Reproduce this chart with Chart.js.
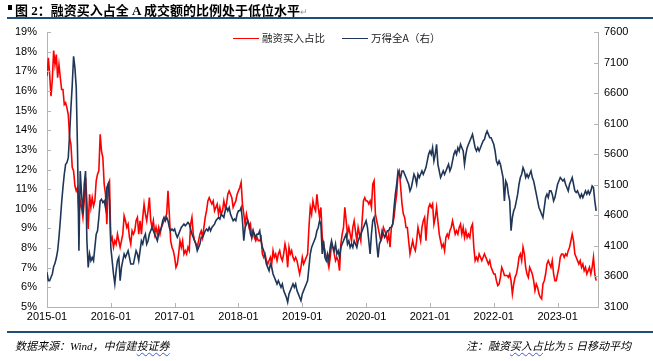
<!DOCTYPE html>
<html>
<head>
<meta charset="utf-8">
<script src="https://cdn.jsdelivr.net/npm/chart.js@4.4.0/dist/chart.umd.min.js"></script>
<style>
body{margin:0;background:#fff;}
#page{position:relative;width:653px;height:361px;overflow:hidden;background:#fff;}
#chart{position:absolute;left:0;top:0;}
.sq{position:absolute;left:8px;top:5px;width:4px;height:5px;background:#000;}
.title{position:absolute;left:15px;top:0px;line-height:17px;font:bold 13px "Liberation Serif","Noto Sans CJK SC",serif;color:#000;white-space:nowrap;}
.mark{color:#999;font-weight:normal;font-size:9px;}
.rule1{position:absolute;left:7px;right:0;top:17px;height:2px;background:#1f4e79;}
.rule2{position:absolute;left:7px;right:0;top:331px;height:1.5px;background:#1f4e79;}
.foot{position:absolute;top:337px;line-height:14px;font:italic 11px "Liberation Serif","Noto Sans CJK SC",serif;color:#000;white-space:nowrap;}
.wavy{text-decoration:underline wavy #3b5bdb;text-underline-offset:2px;text-decoration-thickness:1px;}
</style>
</head>
<body>
<div id="page">
  <canvas id="chart" width="653" height="361"></canvas>
  <div class="sq"></div>
  <div class="title">图 2：融资买入占全 A 成交额的比例处于低位水平<span class="mark">↵</span></div>
  <div class="rule1"></div>
  <div class="rule2"></div>
  <div class="foot" style="left:15px;">数据来源：Wind，中信建<span class="wavy">投证券</span></div>
  <div class="foot" style="right:22px;">注：融资<span class="wavy">买入占</span>比为 5 日移动平均</div>
</div>
<script>
// 每 1/4 个月一个点，从 2015-01 开始
const stepMonths = 0.25;
const tickMonths = [0, 12, 24, 36, 48, 60, 72, 84, 96];
const tickLabels = ['2015-01','2016-01','2017-01','2018-01','2019-01','2020-01','2021-01','2022-01','2023-01'];

// 融资买入占比（%，左轴）
const ratioPct = [
  16.75,17.68,16.83,15.73,16.58,18.05,17.34,17.85,16.67,17.34,16.67,16.07,16.07,15.31,15.40,15.14,14.80,13.62,13.28,12.10,
  11.93,11.17,10.91,11.08,9.73,10.40,10.07,9.56,10.40,11.59,10.40,8.97,10.74,10.07,10.57,10.15,10.40,11.42,11.76,11.93,
  13.79,12.94,12.60,11.25,10.74,9.22,11.25,11.42,8.37,8.54,8.04,8.37,8.20,8.71,8.37,8.04,8.37,8.71,9.64,9.39,
  9.05,9.22,8.54,8.20,8.88,8.71,8.88,9.39,9.56,8.71,
  9.39,8.71,9.56,10.24,9.73,9.39,9.90,10.57,9.39,9.05,9.39,8.71,9.05,8.71,9.05,8.71,9.05,9.22,9.39,9.56,
  9.73,10.91,9.73,8.37,8.04,7.87,7.53,7.02,7.19,7.70,8.37,8.04,8.37,7.70,7.87,7.70,8.04,7.87,9.22,9.56,
  8.71,8.37,8.20,8.04,8.37,8.71,8.88,8.54,9.05,9.56,9.90,10.40,10.57,10.40,10.24,10.40,9.90,10.07,10.24,9.73,
  10.07,9.73,9.90,10.40,10.07,10.24,10.74,10.91,10.74,
  10.57,10.07,10.24,10.40,10.74,10.91,11.08,11.34,10.24,9.73,9.22,9.73,9.39,9.05,9.22,8.54,8.88,8.54,8.37,8.54,
  8.37,8.37,8.54,7.70,7.53,7.70,7.36,7.19,7.36,7.53,7.19,7.87,7.53,7.70,7.36,7.70,7.87,7.53,7.36,7.70,
  8.20,7.87,7.02,8.04,7.70,7.87,7.53,7.36,7.53,7.36,7.02,6.68,7.02,7.53,7.19,7.36,7.53,7.70,9.05,10.07,
  9.73,10.40,10.07,9.90,10.74,10.07,9.56,10.07,8.54,
  8.20,7.87,7.53,7.36,7.02,7.53,8.20,8.04,7.70,7.36,7.53,7.36,6.85,8.20,8.71,9.05,10.07,9.39,8.71,9.05,
  8.71,8.37,9.05,9.39,8.88,8.37,9.05,8.71,8.37,9.39,10.40,10.57,10.40,10.40,10.24,10.40,10.07,11.25,11.42,9.73,
  9.39,9.05,8.71,8.37,8.54,9.05,8.88,8.71,8.37,8.71,8.04,9.05,9.22,9.56,10.24,10.74,11.76,11.93,11.08,10.24,
  9.73,9.56,9.05,9.05,8.37,7.70,8.04,8.37,8.04,
  7.87,8.37,9.05,8.71,8.37,9.05,9.39,9.56,8.37,9.39,10.07,10.24,10.07,10.24,9.22,9.56,10.07,9.39,8.71,8.37,
  8.04,8.20,7.87,8.54,8.71,8.54,8.88,9.05,9.39,9.05,8.71,8.88,8.71,9.05,9.22,8.71,9.05,8.54,8.88,8.54,
  8.71,8.54,9.05,9.22,8.04,7.36,7.53,7.36,7.70,7.53,7.36,7.53,7.70,7.53,7.36,7.19,7.36,7.02,6.85,6.68,
  6.68,6.34,6.09,6.17,6.51,7.02,6.85,6.60,6.60,
  6.60,6.51,6.68,6.34,5.67,6.17,6.51,6.68,7.02,7.53,7.70,7.36,8.04,7.70,7.02,6.68,6.51,7.02,6.85,6.68,
  6.34,5.84,6.17,6.00,5.67,5.50,5.41,6.17,6.34,6.68,7.19,7.36,7.19,7.02,7.36,6.68,6.34,6.34,6.68,7.02,
  7.53,7.70,7.70,7.53,7.70,7.61,7.87,8.04,8.37,8.71,8.37,7.70,7.53,7.36,7.19,7.36,7.02,7.19,6.85,7.02,
  6.68,6.85,7.02,6.68,7.02,7.53,6.68,6.34
];

// 万得全A 指数（右轴）
const windA = [
  3668,3532,3532,3586,3640,3760,3814,3901,4021,4239,4511,4810,5055,5272,5435,5462,5544,5925,6360,6741,
  7203,7013,6686,5598,4021,5326,4946,4619,5109,5326,4184,3749,3967,3858,3912,3858,4076,4293,4347,4565,
  4837,4864,4810,4837,4728,5055,5109,4837,4076,3858,3640,3477,3695,3858,3912,3532,3749,3858,3967,3912,
  3967,4021,3912,3803,3803,3803,3912,4021,3967,3858,
  4021,4184,4130,4239,4293,4130,4184,4293,4347,4402,4347,4293,4239,4184,4293,4347,4402,4511,4565,4511,
  4565,4511,4402,4347,4375,4347,4375,4293,4239,4293,4347,4402,4429,4456,4429,4456,4484,4456,4375,4293,
  4239,4184,4130,4021,4076,4130,4239,4239,4293,4347,4375,4347,4402,4347,4402,4429,4456,4511,4538,4565,
  4538,4619,4592,4565,4674,4728,4674,4728,4619,
  4565,4511,4538,4511,4619,4674,4674,4728,4511,4184,4402,4456,4511,4456,4293,4239,4347,4293,4239,4293,
  4293,4347,4184,4076,4021,3912,3803,3749,3695,3803,3749,3640,3586,3532,3477,3532,3477,3423,3477,3368,
  3314,3260,3178,3314,3368,3423,3477,3423,3477,3368,3314,3260,3205,3314,3368,3423,3477,3532,3749,3967,
  4076,4130,4184,4239,4347,4402,4511,4456,3967,
  4184,3912,3858,3967,3858,4076,4184,4076,4021,4130,3967,4021,3912,4076,4130,4184,4239,4293,4130,4184,
  4076,4130,4076,4184,4130,4076,4184,4239,4293,4347,4402,4456,4511,4402,4184,3967,4293,4511,4565,4402,
  4130,3912,4130,4184,4347,4293,4239,4293,4347,4347,4402,4402,4456,4728,4946,5109,5326,5272,5218,5326,
  5326,5272,5218,5163,5109,5000,5055,5163,5272,
  5218,5109,5272,5218,5272,5326,5272,5326,5381,5490,5598,5653,5598,5707,5490,5598,5762,5435,5326,5218,
  5272,5326,5272,5326,5381,5435,5326,5381,5490,5598,5653,5598,5707,5653,5762,5707,5653,5435,5598,5707,
  5762,5816,5870,5925,5816,5707,5653,5707,5653,5707,5762,5816,5843,5925,5979,5925,5870,5870,5816,5762,
  5653,5490,5435,5490,5435,5326,5218,4837,5163,
  5109,4946,4837,4347,4565,4674,4728,4837,4946,5109,5218,5272,5381,5326,5218,5272,5218,5272,5326,5218,
  5163,5055,4946,4837,4728,4674,4619,4565,4728,4891,4946,4891,5000,5000,4946,4837,4891,5000,5109,5163,
  5218,5190,5163,5190,5109,5055,5000,5109,5163,5218,5109,5000,4973,5000,4946,4891,4946,4891,4946,5000,
  4946,5000,4946,5000,5082,5055,4837,4674
];

const legendOrder = [0, 1];
const axisColor = '#b3b3b3';

Chart.defaults.font.family = '"Liberation Sans", Arial, sans-serif';
Chart.defaults.color = '#000';

// 刻度线画在坐标轴内侧
const innerTicks = {
  id: 'innerTicks',
  afterDatasetsDraw(chart) {
    const {ctx, chartArea: a, scales} = chart;
    ctx.save();
    ctx.strokeStyle = axisColor;
    ctx.lineWidth = 1;
    ctx.beginPath();
    scales.x.ticks.forEach(t => {
      const px = Math.round(scales.x.getPixelForValue(t.value)) + 0.5;
      ctx.moveTo(px, a.bottom); ctx.lineTo(px, a.bottom - 4);
    });
    scales.y.ticks.forEach(t => {
      const py = Math.round(scales.y.getPixelForValue(t.value)) + 0.5;
      ctx.moveTo(a.left, py); ctx.lineTo(a.left + 4, py);
    });
    scales.y2.ticks.forEach(t => {
      const py = Math.round(scales.y2.getPixelForValue(t.value)) + 0.5;
      ctx.moveTo(a.right, py); ctx.lineTo(a.right - 4, py);
    });
    ctx.stroke();
    ctx.restore();
  }
};

// 图例画在绘图区上方里面
const lineLegend = {
  id: 'lineLegend',
  afterDraw(chart) {
    const ctx = chart.ctx;
    ctx.save();
    ctx.font = '10.5px "Noto Sans CJK SC", sans-serif';
    ctx.textBaseline = 'middle';
    let x = 233;
    const y = 38.5;
    legendOrder.forEach(i => {
      const ds = chart.data.datasets[i];
      ctx.strokeStyle = ds.borderColor;
      ctx.lineWidth = 1;
      ctx.beginPath();
      ctx.moveTo(x, y); ctx.lineTo(x + 26, y);
      ctx.stroke();
      ctx.fillStyle = '#222';
      ctx.fillText(ds.label, x + 29, y);
      x += 29 + ctx.measureText(ds.label).width + 17;
    });
    ctx.restore();
  }
};

new Chart(document.getElementById('chart'), {
  type: 'line',
  data: {
    datasets: [
      {
        label: '融资买入占比',
        data: ratioPct.map((v, i) => ({x: i * stepMonths, y: v})),
        borderColor: '#ff0000',
        yAxisID: 'y',
        order: 2
      },
      {
        label: '万得全A（右）',
        data: windA.map((v, i) => ({x: i * stepMonths, y: v})),
        borderColor: '#1f3658',
        yAxisID: 'y2',
        order: 1
      }
    ]
  },
  options: {
    responsive: false,
    animation: false,
    elements: {
      point: {radius: 0},
      line: {borderWidth: 1.6, tension: 0}
    },
    layout: {padding: {top: 32, bottom: 30, left: 0, right: 0}},
    plugins: {legend: {display: false}, tooltip: {enabled: false}},
    scales: {
      x: {
        type: 'linear',
        min: 0,
        max: 103.6,
        afterBuildTicks(s) { s.ticks = tickMonths.map(v => ({value: v})); },
        afterFit(s) { s.height = 24; },
        ticks: {
          callback: (v, i) => tickLabels[i],
          autoSkip: false,
          maxRotation: 0,
          padding: 3,
          font: {size: 11}
        },
        grid: {display: false, drawTicks: false},
        border: {color: axisColor}
      },
      y: {
        position: 'left',
        min: 5,
        max: 19,
        afterFit(s) { s.width = 47; },
        ticks: {stepSize: 1, callback: v => v + '%', padding: 10, font: {size: 11}},
        grid: {display: false, drawTicks: false},
        border: {color: axisColor}
      },
      y2: {
        position: 'right',
        min: 3100,
        max: 7600,
        afterFit(s) { s.width = 55; },
        ticks: {stepSize: 500, callback: v => String(v), padding: 6, font: {size: 11}},
        grid: {display: false, drawTicks: false},
        border: {color: axisColor}
      }
    }
  },
  plugins: [innerTicks, lineLegend]
});
</script>
</body>
</html>
